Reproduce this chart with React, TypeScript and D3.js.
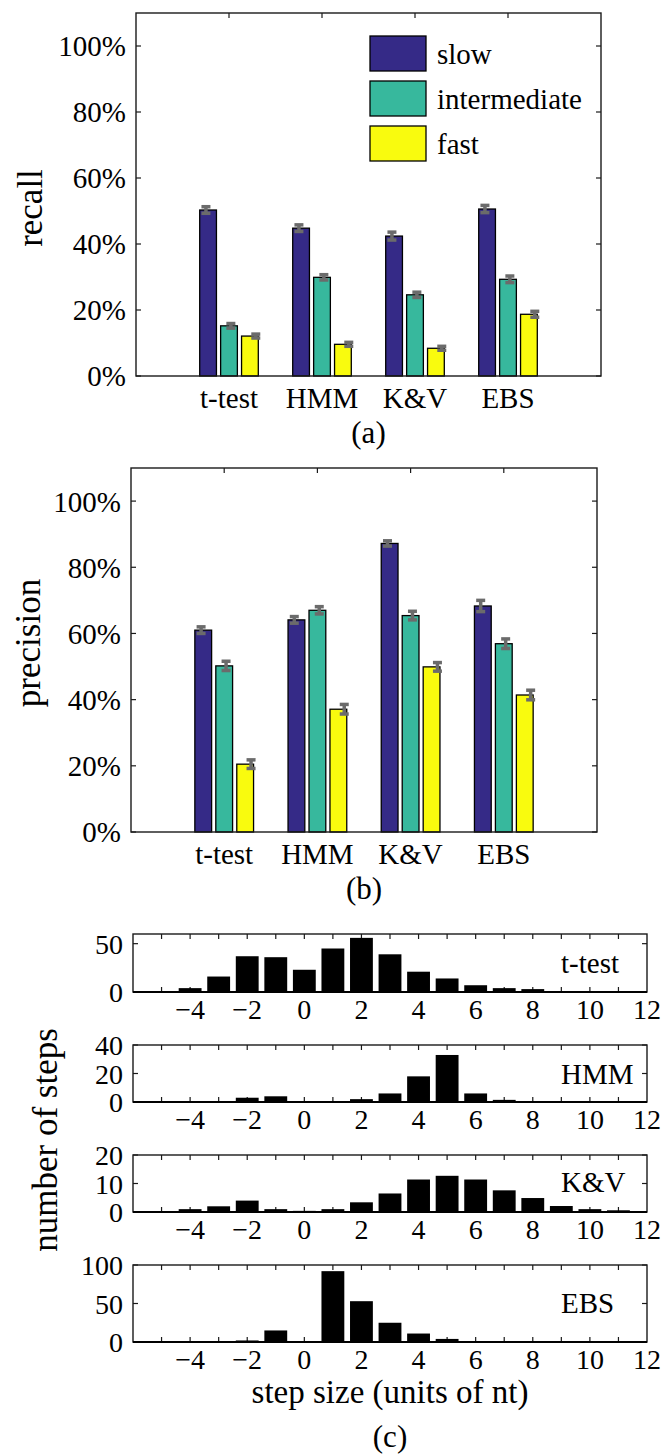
import React from "react";
import * as d3 from "d3";

// ---------- data ----------
const categories = ["t-test", "HMM", "K&V", "EBS"];
const speedNames = ["slow", "intermediate", "fast"];
const speedColors = ["#352a87", "#37b89d", "#f9fb0e"];

const recallSlow = [0.503, 0.448, 0.424, 0.506];
const recallIntermediate = [0.152, 0.299, 0.246, 0.293];
const recallFast = [0.121, 0.096, 0.084, 0.187];
const recallErrSlow = [0.01, 0.01, 0.012, 0.011];
const recallErrIntermediate = [0.007, 0.008, 0.008, 0.01];
const recallErrFast = [0.006, 0.006, 0.006, 0.009];

const precisionSlow = [0.61, 0.641, 0.872, 0.683];
const precisionIntermediate = [0.502, 0.67, 0.654, 0.569];
const precisionFast = [0.205, 0.371, 0.499, 0.414];
const precisionErrSlow = [0.01, 0.01, 0.008, 0.017];
const precisionErrIntermediate = [0.014, 0.011, 0.013, 0.0145];
const precisionErrFast = [0.013, 0.0145, 0.013, 0.0145];

const percentTicks = [0, 0.2, 0.4, 0.6, 0.8, 1.0];

const stepBins = [-5, -4, -3, -2, -1, 0, 1, 2, 3, 4, 5, 6, 7, 8, 9, 10, 11];
const tTestSteps = [1, 4, 16, 37, 36, 23, 45, 56, 39, 21, 14, 7, 4, 3, 1, 0.5, 0.5];
const hmmSteps = [0, 0, 0.5, 3, 4, 0, 0.3, 2, 6, 18, 33, 6, 1.5, 0.7, 0, 0, 0];
const kvSteps = [0.2, 1, 2, 4, 1, 0.4, 1, 3.4, 6.5, 11.4, 12.7, 11.4, 7.6, 4.9, 2.1, 1, 0.6];
const ebsSteps = [0.3, 0.3, 0.3, 2, 15, 1, 92, 53, 25, 11, 4, 1, 0.3, 0.3, 0.3, 0.3, 0.3];
const stepTicks = [-4, -2, 0, 2, 4, 6, 8, 10, 12];
const stepTickLabels = ["\u22124", "\u22122", "0", "2", "4", "6", "8", "10", "12"];

// ---------- style ----------
const FONT = "Liberation Serif, Times New Roman, Tinos, DejaVu Serif, serif";
const AXIS = "#1a1a1a";
const ERR = "#6b6b6b";
const T = (size: number) => ({ fontFamily: FONT, fontSize: size + "px" });

type BarProps = {
  left: number; right: number; top: number; bottom: number;
  series: number[][]; errors: number[][];
  ylabel: string; ylabelX: number; ylabelY: number;
  panelLabel: string; legend?: boolean;
};

function BarPanel(p: BarProps) {
  const x = d3.scaleLinear().domain([0, 5]).range([p.left, p.right]);
  const y = d3.scaleLinear().domain([0, 1.1]).range([p.bottom, p.top]);
  const barW = x(0.18) - x(0);
  const tl = 5;
  const fmt = (t: number) => `${Math.round(t * 100)}%`;
  return (
    <g>
      {percentTicks.map((t) => (
        <g key={"yt" + t}>
          <line x1={p.left} x2={p.left + tl} y1={y(t)} y2={y(t)} stroke={AXIS} strokeWidth={1.2} />
          <line x1={p.right - tl} x2={p.right} y1={y(t)} y2={y(t)} stroke={AXIS} strokeWidth={1.2} />
          <text x={p.left - 10} y={y(t)} dy="0.36em" textAnchor="end" style={T(29)}>{fmt(t)}</text>
        </g>
      ))}
      {categories.map((c, j) => (
        <g key={"xt" + c}>
          <line x1={x(j + 1)} x2={x(j + 1)} y1={p.top} y2={p.top + tl} stroke={AXIS} strokeWidth={1.2} />
          <line x1={x(j + 1)} x2={x(j + 1)} y1={p.bottom - tl} y2={p.bottom} stroke={AXIS} strokeWidth={1.2} />
          <text x={x(j + 1)} y={p.bottom + 32} textAnchor="middle" style={T(29)}>{c}</text>
        </g>
      ))}
      {p.series.map((vals, i) =>
        vals.map((v, j) => {
          const cx = x(j + 1 + (i - 1) * 0.225);
          return (
            <rect key={`b${i}-${j}`} x={cx - barW / 2} y={y(v)} width={barW} height={y(0) - y(v)}
              fill={speedColors[i]} stroke="#000" strokeWidth={1.3} />
          );
        })
      )}
      {p.series.map((vals, i) =>
        vals.map((v, j) => {
          const ex = x(j + 1 + (i - 1) * 0.268 + 0.02);
          const e = p.errors[i][j];
          return (
            <g key={`e${i}-${j}`} stroke={ERR} strokeWidth={3.5}>
              <line x1={ex} x2={ex} y1={y(v - e)} y2={y(v + e)} />
              <line x1={ex - 4.5} x2={ex + 4.5} y1={y(v - e)} y2={y(v - e)} />
              <line x1={ex - 4.5} x2={ex + 4.5} y1={y(v + e)} y2={y(v + e)} />
            </g>
          );
        })
      )}
      <rect x={p.left} y={p.top} width={p.right - p.left} height={p.bottom - p.top} fill="none" stroke={AXIS} strokeWidth={1.4} />
      <text transform={`translate(${p.ylabelX},${p.ylabelY}) rotate(-90)`} textAnchor="middle" style={T(35)}>{p.ylabel}</text>
      <text x={(p.left + p.right) / 2} y={p.bottom + 67} textAnchor="middle" style={T(31)}>{p.panelLabel}</text>
      {p.legend &&
        speedNames.map((s, i) => {
          const ly = 36 + i * 45;
          return (
            <g key={"lg" + s}>
              <rect x={370} y={ly} width={56} height={35} fill={speedColors[i]} stroke="#000" strokeWidth={1.3} />
              <text x={437} y={ly + 27.5} style={T(29)}>{s}</text>
            </g>
          );
        })}
    </g>
  );
}

type HistProps = {
  top: number; bottom: number; ymax: number; yticks: number[];
  counts: number[]; label: string; labelY: number;
};

const H_LEFT = 133;
const H_RIGHT = 647;

function HistPanel(p: HistProps) {
  const x = d3.scaleLinear().domain([-6, 12]).range([H_LEFT, H_RIGHT]);
  const y = d3.scaleLinear().domain([0, p.ymax]).range([p.bottom, p.top]);
  const bw = x(0.8) - x(0);
  const tl = 5;
  const minor = d3.range(-5, 12);
  return (
    <g>
      {minor.map((t) => (
        <g key={"m" + t}>
          <line x1={x(t)} x2={x(t)} y1={p.top} y2={p.top + tl} stroke={AXIS} strokeWidth={1.2} />
          <line x1={x(t)} x2={x(t)} y1={p.bottom - tl} y2={p.bottom} stroke={AXIS} strokeWidth={1.2} />
        </g>
      ))}
      {p.yticks.map((t) => (
        <g key={"y" + t}>
          <line x1={H_LEFT} x2={H_LEFT + tl} y1={y(t)} y2={y(t)} stroke={AXIS} strokeWidth={1.2} />
          <line x1={H_RIGHT - tl} x2={H_RIGHT} y1={y(t)} y2={y(t)} stroke={AXIS} strokeWidth={1.2} />
          <text x={H_LEFT - 10} y={y(t)} dy="0.36em" textAnchor="end" style={T(28)}>{t}</text>
        </g>
      ))}
      {stepBins.map((b, i) => (
        <rect key={"h" + b} x={x(b) - bw / 2} y={y(p.counts[i])} width={bw} height={y(0) - y(p.counts[i])} fill="#000" />
      ))}
      <rect x={H_LEFT} y={p.top} width={H_RIGHT - H_LEFT} height={p.bottom - p.top} fill="none" stroke={AXIS} strokeWidth={1.4} />
      <line x1={H_LEFT} x2={H_RIGHT} y1={p.bottom} y2={p.bottom} stroke="#000" strokeWidth={2} />
      {stepTicks.map((t, i) => (
        <text key={"xl" + t} x={x(t)} y={p.bottom + 27} textAnchor="middle" style={T(28)}>{stepTickLabels[i]}</text>
      ))}
      <text x={561} y={p.labelY} style={T(29)}>{p.label}</text>
    </g>
  );
}

export default function App() {
  return (
    <svg width={665} height={1455} style={{ position: "absolute", left: 0, top: 0, background: "#fff" }}>
      <rect x={0} y={0} width={665} height={1455} fill="#fff" />
      <BarPanel left={136} right={601} top={13} bottom={376}
        series={[recallSlow, recallIntermediate, recallFast]}
        errors={[recallErrSlow, recallErrIntermediate, recallErrFast]}
        ylabel="recall" ylabelX={42} ylabelY={208} panelLabel="(a)" legend />
      <BarPanel left={131} right={597} top={468} bottom={832}
        series={[precisionSlow, precisionIntermediate, precisionFast]}
        errors={[precisionErrSlow, precisionErrIntermediate, precisionErrFast]}
        ylabel="precision" ylabelX={40} ylabelY={643} panelLabel="(b)" />
      <HistPanel top={934} bottom={992} ymax={60} yticks={[0, 50]} counts={tTestSteps} label="t-test" labelY={973} />
      <HistPanel top={1045} bottom={1102} ymax={40} yticks={[0, 20, 40]} counts={hmmSteps} label="HMM" labelY={1084} />
      <HistPanel top={1155} bottom={1212} ymax={20} yticks={[0, 10, 20]} counts={kvSteps} label="K&V" labelY={1192} />
      <HistPanel top={1265} bottom={1342} ymax={100} yticks={[0, 50, 100]} counts={ebsSteps} label="EBS" labelY={1313} />
      <text transform="translate(57,1140) rotate(-90)" textAnchor="middle" style={T(35)}>number of steps</text>
      <text x={390} y={1403} textAnchor="middle" style={T(33)}>step size (units of nt)</text>
      <text x={390} y={1447} textAnchor="middle" style={T(31)}>(c)</text>
    </svg>
  );
}
